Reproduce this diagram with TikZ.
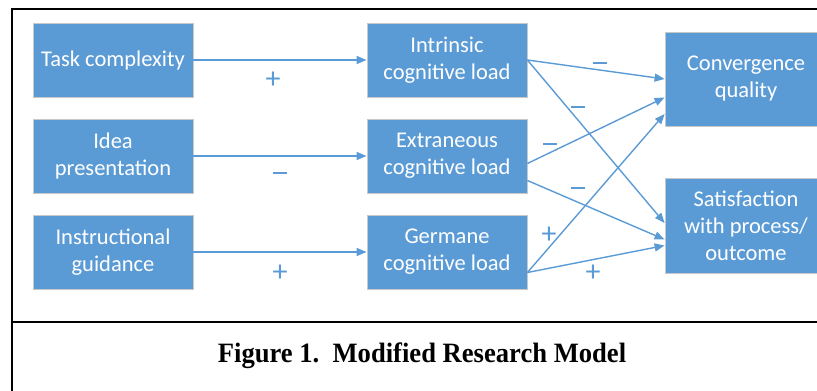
\documentclass[tikz,border=0pt]{standalone}
\usepackage{fontspec}
\setmainfont{Carlito}
\newfontfamily\capfont{Liberation Serif}
\usetikzlibrary{arrows.meta,calc}
\definecolor{boxblue}{HTML}{5B9BD5}
\definecolor{boxedge}{HTML}{C8C8C8}
\begin{document}
\begin{tikzpicture}[x=1pt,y=-1pt,
  blk/.style={draw=boxedge,line width=0.8pt,fill=boxblue,text=white,align=center,inner sep=0pt,font=\fontsize{22.5}{27}\selectfont},
  lbox/.style={blk,minimum width=160pt,minimum height=74pt},
  rbox/.style={blk,minimum width=162pt,minimum height=95pt},
  arr/.style={draw=boxblue,line width=1.4pt,-{Triangle[length=10pt,width=8pt]}},
  plus/.style={text=boxblue,font=\fontsize{30}{30}\selectfont,inner sep=0pt},
  minus/.style={text=boxblue,inner sep=0pt},
  frame/.style={line width=2.2pt,draw=black}]
\useasboundingbox (0,0) rectangle (817,391);
\clip (0,0) rectangle (817,391);
% frame
\draw[frame] (12,410) -- (12,9) -- (830,9);
\draw[frame] (12,322) -- (830,322);
% boxes
\node[lbox] (L1) at (113,60) {Task complexity};
\node[lbox] (L2) at (113,156) {Idea\\presentation};
\node[lbox] (L3) at (113,252) {Instructional\\guidance};
\node[lbox] (M1) at (447,60) {Intrinsic\\cognitive load};
\node[lbox] (M2) at (447,156) {Extraneous\\cognitive load};
\node[lbox] (M3) at (447,252) {Germane\\cognitive load};
\node[rbox,minimum height=94pt] (R1) at (746,79) {Convergence\\quality};
\node[rbox] (R2) at (746,225.5) {Satisfaction\\with process/\\outcome};
% arrows
\draw[arr] (L1.east) -- (M1.west);
\draw[arr] (L2.east) -- (M2.west);
\draw[arr] (L3.east) -- (M3.west);
\draw[arr] (M1.east) -- (R1.west);
\draw[arr] (M1.east) -- ($(R2.west)+(0,-2.5)$);
\draw[arr] ($(M2.east)+(0,7.5)$) -- ($(R1.west)+(0,18.5)$);
\draw[arr] ($(M2.east)+(0,24.5)$) -- ($(R2.west)+(0,14)$);
\draw[arr] ($(M3.east)+(0,20.5)$) -- ($(R1.west)+(0,35)$);
\draw[arr] ($(M3.east)+(0,20.5)$) -- ($(R2.west)+(0,20)$);
% signs
\node[plus] (s1) at (273,80) {+};
\node[minus] (s2) at (280,173) {\rule{14pt}{1.6pt}};
\node[plus] (s3) at (280,273) {+};
\node[minus] (s4) at (600,63) {\rule{14pt}{1.6pt}};
\node[minus] (s5) at (578,107) {\rule{14pt}{1.6pt}};
\node[minus] (s6) at (550,144) {\rule{14pt}{1.6pt}};
\node[minus] (s7) at (578,188) {\rule{14pt}{1.6pt}};
\node[plus] (s8) at (549,235) {+};
\node[plus] (s9) at (593,273) {+};
% caption
\node[anchor=base,inner sep=0pt,font=\capfont\bfseries\fontsize{28}{30}\selectfont] (cap) at (422,362) {\scalebox{0.95}[1]{Figure 1.\ \ Modified Research Model}};
\end{tikzpicture}
\end{document}
